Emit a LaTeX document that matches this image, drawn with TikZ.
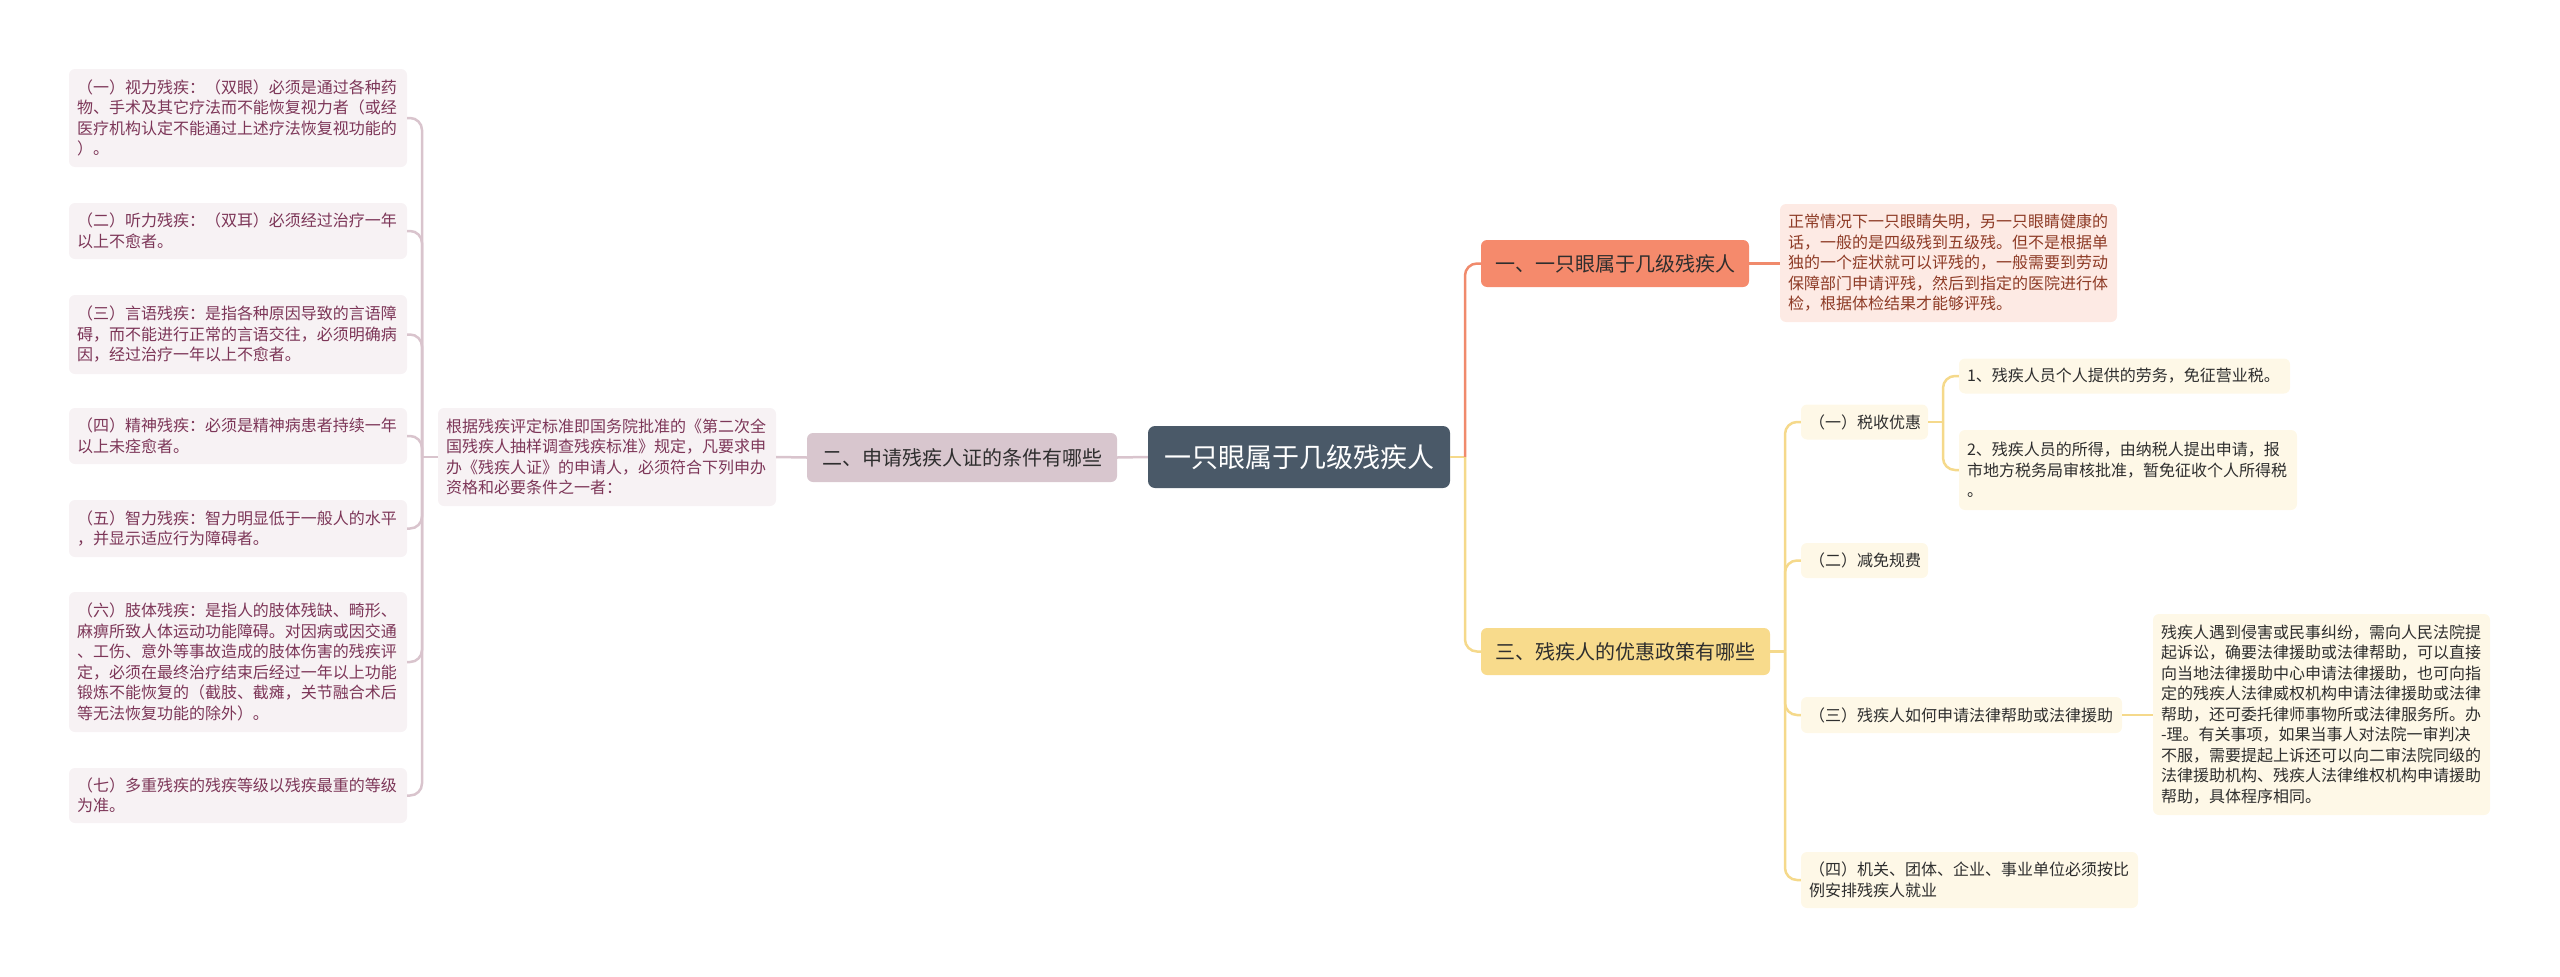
\documentclass[tikz,border=0pt]{standalone}
\usepackage{fontspec}
\setmainfont{Noto Sans CJK SC}
\definecolor{cfill}{HTML}{4A5968}
\definecolor{ofill}{HTML}{F58A6C}
\definecolor{oleaf}{HTML}{FDEAE4}
\definecolor{otext}{HTML}{8E3B26}
\definecolor{oline}{HTML}{F08A6C}
\definecolor{mfill}{HTML}{D8C6CE}
\definecolor{mleaf}{HTML}{F7F2F4}
\definecolor{mtext}{HTML}{7D3658}
\definecolor{mline}{HTML}{D9C4CD}
\definecolor{yfill}{HTML}{F8DB8C}
\definecolor{yleaf}{HTML}{FEF8E7}
\definecolor{yline}{HTML}{F5D98B}
\definecolor{dtext}{HTML}{2E2E2E}
\begin{document}
\begin{tikzpicture}[x=1pt,y=-1pt,
  base/.style={inner sep=0pt, rounded corners=6pt, align=left},
  txt/.style={font=\fontsize{16}{20.5}\selectfont},
  centre/.style={inner sep=0pt, rounded corners=7pt, fill=cfill, text=white, font=\fontsize{27}{32}\selectfont},
  brnode/.style={inner sep=0pt, rounded corners=6pt, text=dtext, font=\fontsize{20}{24}\selectfont},
  leafO/.style={base, txt, fill=oleaf, text=otext},
  leafM/.style={base, txt, fill=mleaf, text=mtext},
  leafY/.style={base, txt, fill=yleaf, text=dtext},
  lnO/.style={draw=oline, line width=2.5pt, rounded corners=12pt},
  lnM/.style={draw=mline, line width=2.5pt, rounded corners=12pt},
  lnY/.style={draw=yline, line width=2.5pt, rounded corners=12pt}]
\useasboundingbox (0,0) rectangle (2560,977);

% centre
\node[centre, minimum width=302pt, minimum height=62pt] (c) at (1299,457) {一只眼属于几级残疾人};

% branch 1
\node[brnode, fill=ofill, minimum width=268pt, minimum height=47pt] (b1) at (1615,263.5) {一、一只眼属于几级残疾人};
\node[leafO, minimum width=337pt, minimum height=118pt, text width=321pt] (l1) at (1948.5,263) {正常情况下一只眼睛失明，另一只眼睛健康的\\话，一般的是四级残到五级残。但不是根据单\\独的一个症状就可以评残的，一般需要到劳动\\保障部门申请评残，然后到指定的医院进行体\\检，根据体检结果才能够评残。};

% branch 2
\node[brnode, fill=mfill, minimum width=310pt, minimum height=49pt] (b2) at (962,457.5) {二、申请残疾人证的条件有哪些};
\node[leafM, minimum width=338pt, minimum height=98pt, text width=322pt] (l2) at (607,457) {根据残疾评定标准即国务院批准的《第二次全\\国残疾人抽样调查残疾标准》规定，凡要求申\\办《残疾人证》的申请人，必须符合下列申办\\资格和必要条件之一者：};

\node[leafM, minimum width=338pt, minimum height=98pt, text width=322pt] (a1) at (238,118) {（一）视力残疾：（双眼）必须是通过各种药\\物、手术及其它疗法而不能恢复视力者（或经\\医疗机构认定不能通过上述疗法恢复视功能的\\）。};
\node[leafM, minimum width=338pt, minimum height=56pt, text width=322pt] (a2) at (238,231) {（二）听力残疾：（双耳）必须经过治疗一年\\以上不愈者。};
\node[leafM, minimum width=338pt, minimum height=79pt, text width=322pt] (a3) at (238,334.5) {（三）言语残疾：是指各种原因导致的言语障\\碍，而不能进行正常的言语交往，必须明确病\\因，经过治疗一年以上不愈者。};
\node[leafM, minimum width=338pt, minimum height=56pt, text width=322pt] (a4) at (238,436) {（四）精神残疾：必须是精神病患者持续一年\\以上未痊愈者。};
\node[leafM, minimum width=338pt, minimum height=57pt, text width=322pt] (a5) at (238,528.5) {（五）智力残疾：智力明显低于一般人的水平\\，并显示适应行为障碍者。};
\node[leafM, minimum width=338pt, minimum height=140pt, text width=322pt] (a6) at (238,662) {（六）肢体残疾：是指人的肢体残缺、畸形、\\麻痹所致人体运动功能障碍。对因病或因交通\\、工伤、意外等事故造成的肢体伤害的残疾评\\定，必须在最终治疗结束后经过一年以上功能\\锻炼不能恢复的（截肢、截瘫，关节融合术后\\等无法恢复功能的除外）。};
\node[leafM, minimum width=338pt, minimum height=55pt, text width=322pt] (a7) at (238,795.5) {（七）多重残疾的残疾等级以残疾最重的等级\\为准。};

% branch 3
\node[brnode, fill=yfill, minimum width=289pt, minimum height=47pt] (b3) at (1625.5,651.5) {三、残疾人的优惠政策有哪些};
\node[leafY, minimum width=127pt, minimum height=35pt, text width=111pt] (r1) at (1864.5,422) {（一）税收优惠};
\node[leafY, minimum width=331pt, minimum height=35pt, text width=315pt] (r1a) at (2124.5,376) {1、残疾人员个人提供的劳务，免征营业税。};
\node[leafY, minimum width=338pt, minimum height=80pt, text width=322pt] (r1b) at (2128,470) {2、残疾人员的所得，由纳税人提出申请，报\\市地方税务局审核批准，暂免征收个人所得税\\。};
\node[leafY, minimum width=127pt, minimum height=35pt, text width=111pt] (r2) at (1864.5,560.5) {（二）减免规费};
\node[leafY, minimum width=321pt, minimum height=36pt, text width=305pt] (r3) at (1961.5,715) {（三）残疾人如何申请法律帮助或法律援助};
\node[leafY, minimum width=337pt, minimum height=201pt, text width=321pt] (r3a) at (2321.5,714.5) {残疾人遇到侵害或民事纠纷，需向人民法院提\\起诉讼，确要法律援助或法律帮助，可以直接\\向当地法律援助中心申请法律援助，也可向指\\定的残疾人法律威权机构申请法律援助或法律\\帮助，还可委托律师事物所或法律服务所。办\\-理。有关事项，如果当事人对法院一审判决\\不服，需要提起上诉还可以向二审法院同级的\\法律援助机构、残疾人法律维权机构申请援助\\帮助，具体程序相同。};
\node[leafY, minimum width=337pt, minimum height=56pt, text width=321pt] (r4) at (1969.5,880) {（四）机关、团体、企业、事业单位必须按比\\例安排残疾人就业};

% junctions
\coordinate (jR) at (1465,457);
\coordinate (jL) at (422,457);
\coordinate (j3) at (1785,651.5);
\coordinate (j31) at (1943,422);

% connectors
\draw[lnY] (c.east) -- (jR);
\draw[lnO] (jR) |- (b1.west);
\draw[lnY] (jR) |- (b3.west);
\draw[lnO] (b1.east) -- (b1.east -| l1.west);

\draw[lnM] (c.west) -- (b2.east);
\draw[lnM] (b2.west) -- (l2.east);
\draw[lnM] (l2.west) -- (jL);
\foreach \n in {a1,a2,a3,a4,a5,a6,a7} { \draw[lnM] (jL) |- (\n.east); }

\draw[lnY] (b3.east) -- (j3);
\foreach \n in {r1,r2,r3,r4} { \draw[lnY] (j3) |- (\n.west); }
\draw[lnY] (r1.east) -- (j31);
\draw[lnY] (j31) |- (r1a.west);
\draw[lnY] (j31) |- (r1b.west);
\draw[lnY] (r3.east) -- (r3.east -| r3a.west);
\end{tikzpicture}
\end{document}
